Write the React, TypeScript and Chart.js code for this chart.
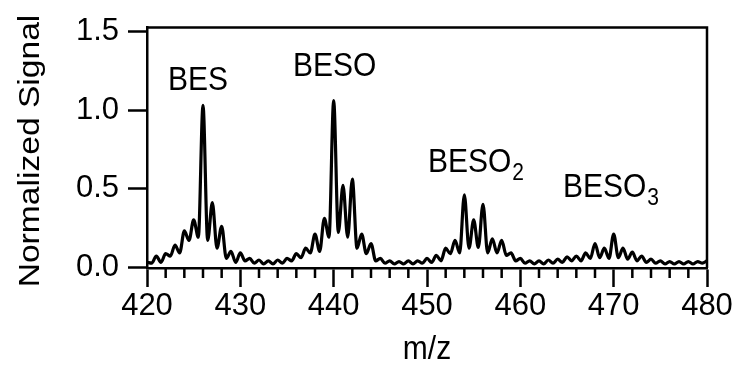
import React, { useEffect, useRef } from "react";
import { Chart, registerables } from "chart.js";

Chart.register(...registerables);

// m/z positions (peaks at integers, valleys at half-integers)
const mzValues = [
  420, 420.5, 421, 421.5, 422, 422.5, 423, 423.5, 424, 424.5,
  425, 425.5, 426, 426.5, 427, 427.5, 428, 428.5, 429, 429.5,
  430, 430.5, 431, 431.5, 432, 432.5, 433, 433.5, 434, 434.5,
  435, 435.5, 436, 436.5, 437, 437.5, 438, 438.5, 439, 439.5,
  440, 440.5, 441, 441.5, 442, 442.5, 443, 443.5, 444, 444.5,
  445, 445.5, 446, 446.5, 447, 447.5, 448, 448.5, 449, 449.5,
  450, 450.5, 451, 451.5, 452, 452.5, 453, 453.5, 454, 454.5,
  455, 455.5, 456, 456.5, 457, 457.5, 458, 458.5, 459, 459.5,
  460, 460.5, 461, 461.5, 462, 462.5, 463, 463.5, 464, 464.5,
  465, 465.5, 466, 466.5, 467, 467.5, 468, 468.5, 469, 469.5,
  470, 470.5, 471, 471.5, 472, 472.5, 473, 473.5, 474, 474.5,
  475, 475.5, 476, 476.5, 477, 477.5, 478, 478.5, 479, 479.5,
  480,
];

const signalValues = [
  0.03, 0.025, 0.07, 0.03, 0.085, 0.07, 0.14, 0.09, 0.23, 0.17,
  0.30, 0.19, 1.03, 0.17, 0.41, 0.12, 0.26, 0.055, 0.10, 0.03,
  0.09, 0.04, 0.055, 0.025, 0.045, 0.02, 0.04, 0.02, 0.045, 0.025,
  0.055, 0.04, 0.085, 0.06, 0.12, 0.09, 0.21, 0.10, 0.31, 0.19,
  1.06, 0.22, 0.52, 0.19, 0.56, 0.12, 0.21, 0.085, 0.15, 0.04,
  0.055, 0.025, 0.04, 0.02, 0.035, 0.02, 0.04, 0.02, 0.04, 0.025,
  0.055, 0.03, 0.075, 0.04, 0.12, 0.085, 0.17, 0.09, 0.46, 0.12,
  0.30, 0.125, 0.40, 0.09, 0.18, 0.09, 0.17, 0.075, 0.09, 0.04,
  0.055, 0.025, 0.04, 0.02, 0.04, 0.02, 0.045, 0.025, 0.05, 0.03,
  0.065, 0.04, 0.07, 0.04, 0.09, 0.055, 0.15, 0.06, 0.12, 0.055,
  0.21, 0.06, 0.12, 0.05, 0.095, 0.04, 0.07, 0.03, 0.05, 0.025,
  0.04, 0.02, 0.035, 0.02, 0.035, 0.02, 0.035, 0.02, 0.035, 0.025,
  0.04,
];

// Peak group labels
const labelTexts = ["BES", "BESO", "BESO", "BESO"];
const labelSubscripts = ["", "", "2", "3"];
const labelMz = [422.25, 435.64, 450.1, 464.57];
const labelSignal = [1.13, 1.216, 0.605, 0.444];

const minorTickValues = [
  422, 424, 426, 428, 432, 434, 436, 438, 442, 444, 446, 448,
  452, 454, 456, 458, 462, 464, 466, 468, 472, 474, 476, 478,
];

const xTitle = "m/z";
const yTitle = "Normalized Signal";

const FONT = '"Liberation Sans", Arial, Helvetica, sans-serif';
const STRETCH = 1.12;

const decorPlugin = {
  id: "decor",
  afterDraw(chart: any) {
    const { ctx, chartArea } = chart;
    const xs = chart.scales.x;
    const ys = chart.scales.y;
    ctx.save();
    ctx.strokeStyle = "#000";
    ctx.lineWidth = 2.5;
    // top & right frame
    ctx.beginPath();
    ctx.moveTo(chartArea.left - 1, chartArea.top);
    ctx.lineTo(chartArea.right, chartArea.top);
    ctx.lineTo(chartArea.right, chartArea.bottom);
    ctx.stroke();
    // minor ticks
    ctx.beginPath();
    for (const v of minorTickValues) {
      const px = xs.getPixelForValue(v);
      ctx.moveTo(px, chartArea.bottom);
      ctx.lineTo(px, chartArea.bottom + 10);
    }
    ctx.stroke();

    // peak labels
    ctx.fillStyle = "#000";
    ctx.textBaseline = "alphabetic";
    ctx.textAlign = "left";
    for (let i = 0; i < labelTexts.length; i++) {
      const px = xs.getPixelForValue(labelMz[i]);
      const py = ys.getPixelForValue(labelSignal[i]);
      ctx.save();
      ctx.translate(px, py);
      ctx.scale(1, STRETCH);
      ctx.font = `30px ${FONT}`;
      ctx.fillText(labelTexts[i], 0, 0);
      if (labelSubscripts[i]) {
        const w = ctx.measureText(labelTexts[i]).width;
        ctx.font = `21px ${FONT}`;
        ctx.fillText(labelSubscripts[i], w + 1, 7);
      }
      ctx.restore();
    }

    // axis titles
    ctx.font = `30px ${FONT}`;
    ctx.textAlign = "center";
    ctx.textBaseline = "middle";
    ctx.save();
    ctx.translate((chartArea.left + chartArea.right) / 2, 350);
    ctx.scale(1, STRETCH);
    ctx.fillText(xTitle, 0, 0);
    ctx.restore();
    ctx.save();
    ctx.translate(31, 151);
    ctx.rotate(-Math.PI / 2);
    ctx.scale(STRETCH, 1);
    ctx.fillText(yTitle, 0, 0);
    ctx.restore();
    ctx.restore();
  },
};

export default function App() {
  const ref = useRef<HTMLCanvasElement | null>(null);

  useEffect(() => {
    if (!ref.current) return;
    const points = mzValues.map((m, i) => ({ x: m, y: signalValues[i] }));
    const chart = new Chart(ref.current, {
      type: "line",
      data: {
        datasets: [
          {
            data: points,
            borderColor: "#000",
            borderWidth: 3.2,
            pointRadius: 0,
            fill: false,
            cubicInterpolationMode: "monotone",
            borderJoinStyle: "round",
            borderCapStyle: "round",
          },
        ],
      },
      options: {
        responsive: false,
        animation: false,
        devicePixelRatio: 1,
        layout: { padding: { top: 20, right: 30, left: 0, bottom: 0 } },
        plugins: {
          legend: { display: false },
          tooltip: { enabled: false },
        },
        scales: {
          x: {
            type: "linear",
            min: 420,
            max: 480,
            afterFit: (s: any) => {
              s.height = 106;
            },
            ticks: {
              stepSize: 10,
              autoSkip: false,
              maxRotation: 0,
              padding: 1,
              color: "#000",
              font: { family: FONT, size: 31 },
            },
            grid: {
              drawOnChartArea: false,
              drawTicks: true,
              tickLength: 19,
              tickWidth: 2.5,
              tickColor: "#000",
            },
            border: { display: true, color: "#000", width: 2.5 },
          },
          y: {
            type: "linear",
            min: -0.006,
            max: 1.525,
            afterFit: (s: any) => {
              s.width = 147;
            },
            ticks: {
              stepSize: 0.5,
              includeBounds: false,
              padding: 9,
              color: "#000",
              font: { family: FONT, size: 31 },
              callback: (v: any) => Number(v).toFixed(1),
            },
            grid: {
              drawOnChartArea: false,
              drawTicks: true,
              tickLength: 19,
              tickWidth: 2.5,
              tickColor: "#000",
            },
            border: { display: true, color: "#000", width: 2.5 },
          },
        },
      },
      plugins: [decorPlugin],
    });
    return () => chart.destroy();
  }, []);

  return (
    <div style={{ position: "absolute", left: 0, top: 0, width: 737, height: 374, background: "#fff" }}>
      <canvas ref={ref} width={737} height={374} />
    </div>
  );
}
